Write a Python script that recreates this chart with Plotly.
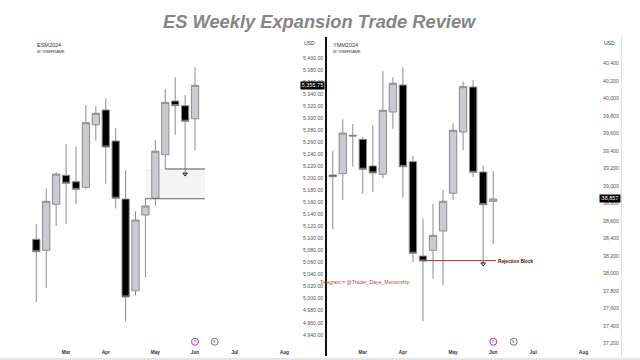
import plotly.graph_objects as go
import pandas as pd

# ---- data ----
weeks = ["2024-02-12","2024-02-19","2024-02-26","2024-03-04","2024-03-11","2024-03-18",
         "2024-03-25","2024-04-01","2024-04-08","2024-04-15","2024-04-22","2024-04-29",
         "2024-05-06","2024-05-13","2024-05-20","2024-05-27","2024-06-03"]
# ES: open, high, low, close
es_open  = [5098.6,5080.3,5156.8,5205,5194.3,5185,5289,5313.6,5262,5165.6,5013,5139,5167,5239.2,5328.5,5320.7,5299]
es_high  = [5124,5183.4,5210,5256.5,5252.5,5322,5320,5333,5283.6,5213.3,5145,5167,5263.7,5348.5,5368,5338.5,5384.5]
es_low   = [4994,5017.6,5120.7,5124,5156.8,5181.7,5262.5,5191,5149.5,4962.3,5005.5,5035.4,5154,5215.5,5272.5,5205.5,5246.5]
es_close = [5078,5161.8,5207,5191.7,5181.7,5292.4,5308,5252,5166.8,5002.7,5130.7,5154,5245,5326.4,5320.7,5294.8,5354.6]
# YM
ym_open  = [39125,39140,39578,39532,39228,39133,39844,40152,39277,38200,38265,38486,38916,39616,40129,39159,38825]
ym_high  = [39399,39761,39707,39555,39696,40312,40240,40354,39345,38630,38794,38954,39715,40190,40209,39231,39171]
ym_low   = [38505,38840,39220,38908,38931,39087,39653,38866,38128,37458,37938,37866,38840,39407,39099,38109,38334]
ym_close = [39105,39604,39570,39190,39148,39863,40172,39220,38231,38143,38436,38825,39635,40133,39156,38786,38851]

es_ticks = list(range(4940, 5401, 20))
ym_ticks = list(range(37200, 40401, 200))
month_dates = ["2024-03-04","2024-04-01","2024-05-06","2024-06-03","2024-07-01","2024-08-05"]
month_text = ["<b>Mar</b>","<b>Apr</b>","<b>May</b>","<b>Jun</b>","<b>Jul</b>","<b>Aug</b>"]

es_last, ym_last = 5355.75, 38857
es_zone_top, es_zone_bottom = 5215.5, 5166
es_zone_start, es_zone_mid, es_zone_end = "2024-04-29", "2024-05-13", "2024-06-10"
ym_reject = 38147
ym_reject_start, ym_reject_end = "2024-04-15", "2024-06-05"
ym_arrow_date, ym_arrow_val = "2024-05-27", 38110
es_arrow_date, es_arrow_val = "2024-05-27", 5207

W, H = 640, 360
base = pd.Timestamp("2024-02-12")
def idx_date(i):
    return base + pd.Timedelta(days=7 * i)
px_x = lambda p: p / W
px_y = lambda p: 1 - p / H

TOP, BOT = 37, 345
GRAY_FILL, GRAY_LINE, WICK = "#c9cbd2", "#8c8c8c", "#8c8c8c"
TICK = "#555555"
FONT = "Liberation Sans"

fig = go.Figure()
def candles(o, h, l, c, xa, ya):
    fig.add_trace(go.Candlestick(
        x=weeks, open=o, high=h, low=l, close=c, xaxis=xa, yaxis=ya, whiskerwidth=0,
        showlegend=False, hoverinfo="skip",
        increasing=dict(line=dict(color=GRAY_LINE, width=1), fillcolor=GRAY_FILL),
        decreasing=dict(line=dict(color=WICK, width=1), fillcolor="#000000")))

candles(es_open, es_high, es_low, es_close, "x", "y")
candles(ym_open, ym_high, ym_low, ym_close, "x2", "y2")

for xa, ya, d, v in [("x", "y", es_arrow_date, es_arrow_val), ("x2", "y2", ym_arrow_date, ym_arrow_val)]:
    fig.add_trace(go.Scatter(x=[d], y=[v], xaxis=xa, yaxis=ya, mode="markers", showlegend=False,
                             hoverinfo="skip",
                             marker=dict(symbol="triangle-down-open", size=4, color="#222222",
                                         line=dict(width=1, color="#222222"))))

shapes = [
    dict(type="rect", xref="x", yref="y", x0=es_zone_start, x1=es_zone_end, y0=es_zone_bottom, y1=es_zone_top,
         fillcolor="#f4f4f4", line_width=0, layer="below"),
    dict(type="line", xref="x", yref="y", x0=es_zone_start, x1=es_zone_end, y0=es_zone_bottom, y1=es_zone_bottom,
         line=dict(color="#666666", width=1)),
    dict(type="line", xref="x", yref="y", x0=es_zone_mid, x1=es_zone_end, y0=es_zone_top, y1=es_zone_top,
         line=dict(color="#555555", width=1)),
    dict(type="line", xref="x2", yref="y2", x0=ym_reject_start, x1=ym_reject_end, y0=ym_reject, y1=ym_reject,
         line=dict(color="#8a3a3a", width=1)),
    dict(type="line", xref="paper", yref="paper", x0=px_x(326), x1=px_x(326), y0=px_y(37), y1=px_y(356),
         line=dict(color="#111111", width=2)),
    dict(type="line", xref="paper", yref="paper", x0=px_x(621.5), x1=px_x(621.5), y0=px_y(37), y1=px_y(356),
         line=dict(color="#dddddd", width=1)),
    dict(type="line", xref="paper", yref="paper", x0=0, x1=1, y0=px_y(359), y1=px_y(359),
         line=dict(color="#cccccc", width=1)),
]
for cx, col in [(195, "#9b3fb5"), (214.7, "#777777"), (493.3, "#9b3fb5"), (513.7, "#777777")]:
    shapes.append(dict(type="circle", xref="paper", yref="paper", x0=px_x(cx - 3.5), x1=px_x(cx + 3.5),
                       y0=px_y(345.2), y1=px_y(338.2), line=dict(color=col, width=1), fillcolor="#ffffff"))

def note(x, y, text, size=5.5, color="#333333", anchor="left", **kw):
    return dict(xref="paper", yref="paper", x=px_x(x), y=px_y(y), text=text, showarrow=False,
                xanchor=anchor, yanchor="middle", font=dict(size=size, color=color, family=FONT),
                borderpad=0, **kw)

annotations = [
    note(320, 21, "<b><i>ES Weekly Expansion Trade Review</i></b>", size=18.3, color="#858585", anchor="center"),
    note(36, 44.5, "ESM2024", size=5.5),
    note(35.5, 52, "W TIMEFRAME", size=3.9),
    note(332, 44.5, "YMM2024", size=5.5),
    note(332, 52, "W TIMEFRAME", size=3.9),
    note(303, 42.5, "USD", size=5),
    note(603, 42.5, "USD", size=5),
    note(299.5, 85, f"{es_last:,.2f}", size=5.5, color="#ffffff", bgcolor="#000000", width=23, height=6.5),
    note(598.5, 198.7, f"{ym_last:,.0f}", size=5.5, color="#ffffff", bgcolor="#000000", width=20, height=6.5),
    note(497, 261, "<b>Rejection Block</b>", size=4.7, color="#222222"),
    note(319, 282, "Telegram = @Trader_Daye_Mentorship", size=5.1, color="#d23c3c"),
]
for cx, t, col in [(195, "P", "#9b3fb5"), (214.7, "$", "#555555"), (493.3, "P", "#9b3fb5"), (513.7, "$", "#555555")]:
    annotations.append(note(cx, 341.7, t, size=4, color=col, anchor="center"))

def xaxis(d0, d1, i0, i1):
    return dict(domain=[px_x(d0), px_x(d1)], type="date", range=[idx_date(i0), idx_date(i1)],
                tickvals=month_dates, ticktext=month_text, showgrid=False, zeroline=False, showline=False,
                ticks="", ticklabelstandoff=3, tickfont=dict(size=4.8, color="#333333", family=FONT),
                rangeslider=dict(visible=False), fixedrange=True)
def yaxis(rng, vals, text, anchor):
    return dict(domain=[px_y(BOT), px_y(TOP)], range=rng, side="right", anchor=anchor, tickvals=vals, ticktext=text,
                showgrid=False, zeroline=False, showline=False, ticks="", ticklabelstandoff=2,
                tickfont=dict(size=5.2, color=TICK, family=FONT), fixedrange=True)

fig.update_layout(
    width=W, height=H, margin=dict(l=0, r=0, t=0, b=0), paper_bgcolor="#ffffff", plot_bgcolor="#ffffff",
    showlegend=False, shapes=shapes, annotations=annotations, boxgap=0.27, boxgroupgap=0,
    xaxis=xaxis(0, 300, -3.66, 26.58),
    xaxis2=xaxis(327, 600, -0.57, 26.65),
    yaxis=yaxis([4922.9, 5434.9], es_ticks, [f"{v:,.2f}" for v in es_ticks], "x"),
    yaxis2=yaxis([37184, 40700], ym_ticks, [f"{v:,}" for v in ym_ticks], "x2"),
)
fig.write_html("out.html", config=dict(displayModeBar=False),
               post_script="document.body.style.margin='0';document.body.style.overflow='hidden';")
